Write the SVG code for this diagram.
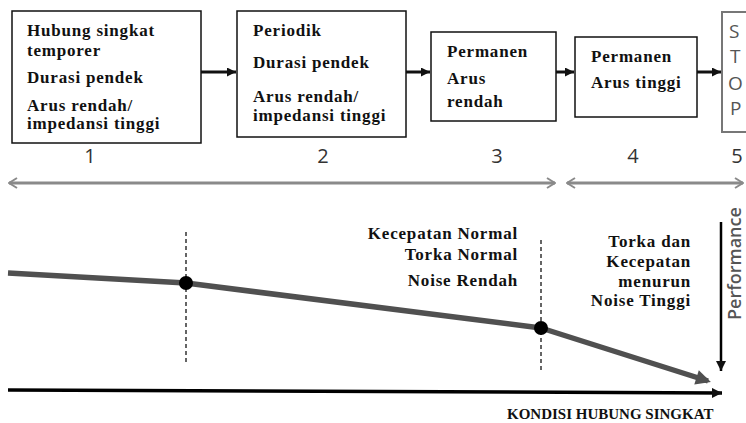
<svg xmlns="http://www.w3.org/2000/svg" width="746" height="423" viewBox="0 0 746 423">
<style>
.box{fill:#fff;stroke:#111;stroke-width:1.5}
.t{font-family:"Liberation Serif","Times New Roman",serif;font-weight:bold;font-size:17px;letter-spacing:0.8px;fill:#111}
.num{font-family:"Open Sans","Liberation Sans",sans-serif;font-size:20px;fill:#333;text-anchor:middle}
.stop{font-family:"Open Sans","Liberation Sans",sans-serif;font-size:19px;fill:#555}
.flow{stroke:#111;stroke-width:3;fill:none}
.span{stroke:#8a8a8a;stroke-width:3;fill:none}
.dash{stroke:#555;stroke-width:1.8;stroke-dasharray:4 3;fill:none}
</style>
<defs>
<marker id="ah" viewBox="0 0 10 10" refX="10" refY="5" markerWidth="10" markerHeight="9" markerUnits="userSpaceOnUse" orient="auto"><path d="M0,0 L10,5 L0,10 z" fill="#111"/></marker>
<marker id="chev" viewBox="0 0 10 12" refX="9" refY="6" markerWidth="10" markerHeight="12" markerUnits="userSpaceOnUse" orient="auto-start-reverse"><path d="M1,1 L9,6 L1,11" fill="none" stroke="#8a8a8a" stroke-width="2"/></marker>
<marker id="gah" viewBox="0 0 10 10" refX="8" refY="5" markerWidth="20" markerHeight="15" markerUnits="userSpaceOnUse" orient="auto"><path d="M0,0 L10,5 L0,10 z" fill="#505050"/></marker>
<marker id="bah" viewBox="0 0 10 10" refX="10" refY="5" markerWidth="12" markerHeight="10" markerUnits="userSpaceOnUse" orient="auto"><path d="M0,0 L10,5 L0,10 z" fill="#111"/></marker>
</defs>

<g id="box1">
<rect class="box" x="12" y="11" width="189" height="132"/>
<text class="t" x="27" y="36">Hubung singkat</text>
<text class="t" x="27" y="56">temporer</text>
<text class="t" x="27" y="83">Durasi pendek</text>
<text class="t" x="27" y="111">Arus rendah/</text>
<text class="t" x="27" y="129">impedansi tinggi</text>
</g>
<g id="box2">
<rect class="box" x="237" y="11" width="169" height="126"/>
<text class="t" x="253" y="36">Periodik</text>
<text class="t" x="253" y="68">Durasi pendek</text>
<text class="t" x="253" y="102">Arus rendah/</text>
<text class="t" x="253" y="121">impedansi tinggi</text>
</g>
<g id="box3">
<rect class="box" x="431" y="32" width="125" height="89"/>
<text class="t" x="447" y="57">Permanen</text>
<text class="t" x="447" y="84">Arus</text>
<text class="t" x="447" y="107">rendah</text>
</g>
<g id="box4">
<rect class="box" x="575" y="37" width="122" height="80"/>
<text class="t" x="591" y="62">Permanen</text>
<text class="t" x="591" y="88">Arus tinggi</text>
</g>
<g id="stop">
<rect x="722" y="12" width="40" height="120" fill="#fff" stroke="#777" stroke-width="2"/>
<text class="stop" x="729" y="38">S</text>
<text class="stop" x="730" y="63">T</text>
<text class="stop" x="728" y="90">O</text>
<text class="stop" x="730" y="115">P</text>
</g>

<g id="phase-numbers">
<text class="num" x="90" y="163">1</text>
<text class="num" x="323" y="163">2</text>
<text class="num" x="497" y="163">3</text>
<text class="num" x="633" y="163">4</text>
<text class="num" x="737" y="163">5</text>
</g>

<g id="connectors">
<line class="flow" x1="201" y1="72" x2="236" y2="72" marker-end="url(#ah)"/>
<line class="flow" x1="406" y1="72" x2="430" y2="72" marker-end="url(#ah)"/>
<line class="flow" x1="556" y1="72" x2="574" y2="72" marker-end="url(#ah)"/>
<line class="flow" x1="697" y1="72" x2="721" y2="72" marker-end="url(#ah)"/>
<line class="span" x1="9" y1="183" x2="555" y2="183" marker-start="url(#chev)" marker-end="url(#chev)"/>
<line class="span" x1="567" y1="183" x2="743" y2="183" marker-start="url(#chev)" marker-end="url(#chev)"/>
</g>

<g id="chart">
<line class="dash" x1="186" y1="232" x2="186" y2="363"/>
<line class="dash" x1="541" y1="240" x2="541" y2="370"/>
<polyline points="8,273 186,283 541,328 708,381" fill="none" stroke="#505050" stroke-width="5.5" stroke-linejoin="round" marker-end="url(#gah)"/>
<circle cx="186" cy="283" r="7" fill="#000"/>
<circle cx="541" cy="328" r="7" fill="#000"/>
<line x1="8" y1="390" x2="722" y2="393" stroke="#000" stroke-width="3.5" marker-end="url(#bah)"/>
<line x1="721" y1="222" x2="721" y2="371" stroke="#000" stroke-width="2.5" marker-end="url(#bah)"/>
</g>

<g id="labels">
<text class="t" x="518" y="239" text-anchor="end">Kecepatan Normal</text>
<text class="t" x="518" y="260" text-anchor="end">Torka Normal</text>
<text class="t" x="518" y="286" text-anchor="end">Noise Rendah</text>
<text class="t" x="691" y="247" text-anchor="end">Torka dan</text>
<text class="t" x="691" y="267" text-anchor="end">Kecepatan</text>
<text class="t" x="691" y="287" text-anchor="end">menurun</text>
<text class="t" x="691" y="306" text-anchor="end">Noise Tinggi</text>
<text x="507" y="419" font-family="Liberation Serif,'Times New Roman',serif" font-weight="bold" font-size="15px" fill="#111">KONDISI HUBUNG SINGKAT</text>
<text transform="translate(741,320) rotate(-90)" font-family="'Open Sans','Liberation Sans',sans-serif" font-weight="600" font-size="18px" fill="#555">Performance</text>
</g>
</svg>
